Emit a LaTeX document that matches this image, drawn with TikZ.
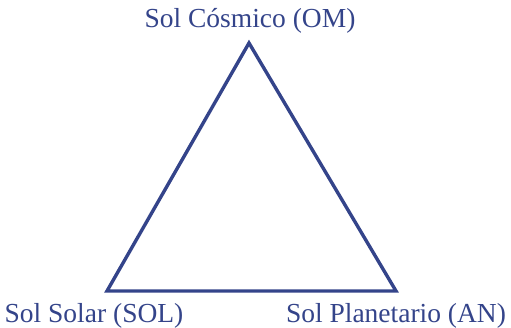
\documentclass[tikz,border=0pt]{standalone}
\usepackage{fontspec}
\setmainfont{Liberation Serif}
\usetikzlibrary{calc}
\definecolor{solblue}{RGB}{52,68,138}

\begin{document}
\begin{tikzpicture}[x=1pt, y=1pt,
    lbl/.style={text=solblue, anchor=base, inner sep=0pt, font=\fontsize{27.5}{31}\selectfont}]
    \useasboundingbox (0,0) rectangle (511,327);
    \coordinate (OM) at (249, 284); \coordinate (SOL) at (107, 36); \coordinate (AN) at (396, 36);
    
    \draw[solblue, line width=3.4pt, line join=miter] (OM) -- (SOL) -- (AN) -- cycle;
    
    \node[lbl] (om_lbl) at (250, 299) {Sol Cósmico (OM)};
    \node[lbl] (sol_lbl) at (94, 5) {Sol Solar (SOL)};
    \node[lbl] (an_lbl) at (396, 5) {Sol Planetario (AN)};
\end{tikzpicture}
\end{document}
